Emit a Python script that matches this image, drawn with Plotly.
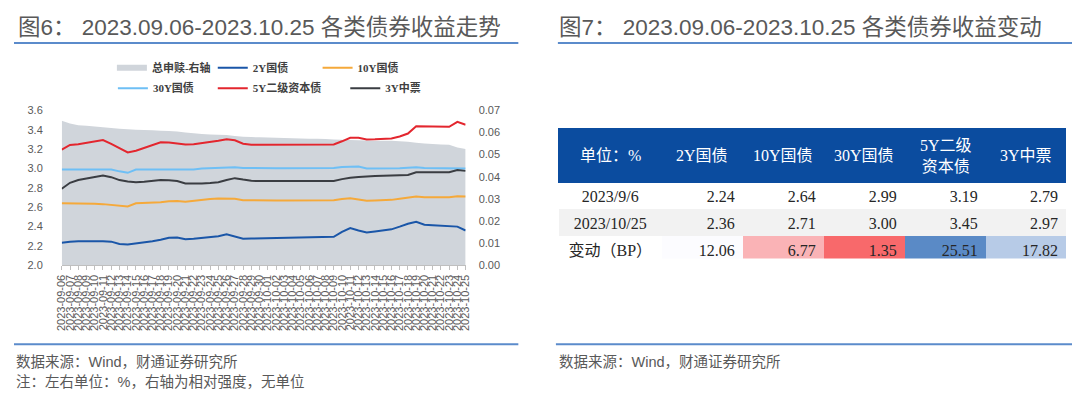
import plotly.graph_objects as go
import pandas as pd

W, H = 1080, 394

def px(x):
    return x / W

def py(y):
    return 1 - y / H

# ---------------- data ----------------
dates = [d.strftime("%Y-%m-%d") for d in pd.date_range("2023-09-06", "2023-10-25", freq="D")]

area_strength = [0.0653, 0.064, 0.0632, 0.063, 0.0627, 0.0623, 0.062, 0.0617, 0.0614, 0.0612,
                 0.0611, 0.061, 0.0608, 0.0606, 0.0604, 0.06, 0.0596, 0.0593, 0.0591, 0.059,
                 0.0589, 0.0584, 0.058, 0.0579, 0.0578, 0.0577, 0.0576, 0.0575, 0.0574, 0.0573,
                 0.0572, 0.0571, 0.057, 0.0568, 0.0567, 0.0566, 0.0565, 0.0564, 0.0563, 0.0563,
                 0.0562, 0.056, 0.0558, 0.0553, 0.055, 0.0548, 0.0546, 0.0544, 0.0532, 0.0525]

gov_2y = [2.233, 2.245, 2.248, 2.25, 2.25, 2.25, 2.245, 2.22, 2.216, 2.225,
          2.235, 2.25, 2.265, 2.285, 2.288, 2.27, 2.275, 2.282, 2.29, 2.30,
          2.32, 2.30, 2.276, 2.277, 2.278, 2.279, 2.28, 2.282, 2.284, 2.286,
          2.288, 2.29, 2.292, 2.295, 2.345, 2.386, 2.36, 2.34, 2.35, 2.36,
          2.372, 2.40, 2.43, 2.45, 2.42, 2.415, 2.41, 2.405, 2.40, 2.36]

gov_10y = [2.64, 2.64, 2.641, 2.638, 2.635, 2.632, 2.626, 2.618, 2.608, 2.64,
           2.642, 2.646, 2.652, 2.662, 2.664, 2.657, 2.668, 2.678, 2.685, 2.691,
           2.693, 2.688, 2.672, 2.67, 2.67, 2.67, 2.67, 2.67, 2.67, 2.67,
           2.67, 2.67, 2.67, 2.672, 2.685, 2.693, 2.68, 2.668, 2.67, 2.672,
           2.676, 2.688, 2.70, 2.71, 2.703, 2.703, 2.703, 2.703, 2.712, 2.71]

gov_30y = [2.99, 2.99, 2.99, 2.99, 2.99, 2.99, 2.988, 2.97, 2.955, 2.988,
           2.988, 2.988, 2.989, 2.99, 2.99, 2.992, 2.99, 3.0, 3.005, 3.01,
           3.013, 3.013, 3.005, 3.003, 3.003, 3.003, 3.003, 3.003, 3.003, 3.003,
           3.003, 3.003, 3.003, 3.005, 3.015, 3.02, 3.02, 3.0, 3.0, 3.0,
           3.0, 3.003, 3.008, 3.013, 3.005, 3.003, 3.0, 3.0, 3.0, 3.0]

tier2_5y = [3.193, 3.243, 3.25, 3.266, 3.28, 3.293, 3.253, 3.21, 3.166, 3.183,
            3.21, 3.236, 3.27, 3.268, 3.256, 3.246, 3.25, 3.26, 3.273, 3.285,
            3.30, 3.29, 3.255, 3.245, 3.245, 3.245, 3.245, 3.245, 3.245, 3.245,
            3.245, 3.245, 3.245, 3.248, 3.28, 3.316, 3.316, 3.298, 3.30, 3.305,
            3.31, 3.33, 3.36, 3.435, 3.434, 3.433, 3.432, 3.43, 3.48, 3.45]

mtn_3y = [2.79, 2.852, 2.881, 2.895, 2.91, 2.926, 2.91, 2.88, 2.865, 2.858,
          2.862, 2.87, 2.88, 2.878, 2.87, 2.845, 2.843, 2.845, 2.85, 2.857,
          2.88, 2.90, 2.885, 2.872, 2.87, 2.87, 2.87, 2.87, 2.87, 2.87,
          2.87, 2.87, 2.87, 2.87, 2.89, 2.905, 2.912, 2.92, 2.922, 2.924,
          2.926, 2.93, 2.933, 2.96, 2.96, 2.96, 2.96, 2.962, 2.983, 2.975]

left_ticks = [2.0, 2.2, 2.4, 2.6, 2.8, 3.0, 3.2, 3.4, 3.6]
right_ticks = [0.00, 0.01, 0.02, 0.03, 0.04, 0.05, 0.06, 0.07]

# table data
table_header = ["单位：%", "2Y国债", "10Y国债", "30Y国债", "5Y二级<br>资本债", "3Y中票"]
row_labels = ["2023/9/6", "2023/10/25", "变动（BP）"]
start_vals = [2.24, 2.64, 2.99, 3.19, 2.79]
end_vals = [2.36, 2.71, 3.00, 3.45, 2.97]
change_bp = [12.06, 6.77, 1.35, 25.51, 17.82]
change_colors = ["#FCFCFF", "#FAB3B6", "#F8696B", "#5A8AC6", "#B7CBE7"]

# ---------------- figure ----------------
GRAY_TXT = "#595959"
SANS = "Liberation Sans, Noto Sans CJK SC, sans-serif"
SERIF = "Liberation Serif, Noto Sans CJK SC, serif"
LEG_FONT = dict(family=SERIF, size=11, color="#404040", weight="bold")

fig = go.Figure()

fig.add_trace(go.Scatter(
    x=dates, y=area_strength, name="总申赎-右轴", mode="none", fill="tozeroy",
    fillcolor="#D0D5DB", xaxis="x", yaxis="y", legend="legend"))

series = [
    ("2Y国债", gov_2y, "#1A56A8", "legend2"),
    ("10Y国债", gov_10y, "#F5A93A", "legend3"),
    ("30Y国债", gov_30y, "#6EBFF5", "legend4"),
    ("5Y二级资本债", tier2_5y, "#E3262E", "legend5"),
    ("3Y中票", mtn_3y, "#3A3D42", "legend6"),
]
for name, vals, col, leg in series:
    fig.add_trace(go.Scatter(
        x=dates, y=vals, name=name, mode="lines", line=dict(color=col, width=2),
        xaxis="x", yaxis="y2", legend=leg))

# legends: text start x (px) and row centre y (px)
legend_pos = {
    "legend": (139, 55.5), "legend2": (241, 55.5), "legend3": (347, 55.5),
    "legend4": (140, 76.5), "legend5": (241, 76.5), "legend6": (375, 76.5),
}
for key, (xt, yc) in legend_pos.items():
    fig.layout[key] = dict(x=px(xt - 40), xanchor="left", y=py(yc), yanchor="middle",
                           orientation="h", bgcolor="rgba(0,0,0,0)", font=LEG_FONT,
                           itemwidth=30, borderwidth=0)

# table: header band from the table, header labels centred vertically as annotations
col_widths = [104, 82, 82, 82, 82, 81]
tbl_x0, tbl_top, hdr_h, row_h = 551, 118, 54, 27
tbl_x1 = tbl_x0 + sum(col_widths)
tbl_bottom = tbl_top + hdr_h + row_h * len(row_labels)

cells_vals = [row_labels] + [
    [f"{s:.2f}", f"{e:.2f}", f"{c:.2f}"] for s, e, c in zip(start_vals, end_vals, change_bp)
]
cells_fill = [["#FFFFFF", "#F2F2F2", "#FFFFFF"]] + [
    ["#FFFFFF", "#F2F2F2", c] for c in change_colors
]
fig.add_trace(go.Table(
    domain=dict(x=[px(tbl_x0), px(tbl_x1)], y=[py(tbl_bottom), py(tbl_top)]),
    columnwidth=col_widths,
    header=dict(values=["" for _ in table_header], fill_color="#0B4C9F", align="center",
                height=hdr_h, font=dict(family=SERIF, size=16, color="white"),
                line=dict(color="#0B4C9F", width=1)),
    cells=dict(values=cells_vals, fill_color=cells_fill,
               align=["center", "right", "right", "right", "right", "right"],
               height=row_h, font=dict(family=SERIF, size=16, color="#262626"),
               line=dict(color="rgba(0,0,0,0)", width=0)),
))
for i, label in enumerate(table_header):
    cx = tbl_x0 + sum(col_widths[:i]) + col_widths[i] / 2
    fig.add_annotation(text=label, x=px(cx), y=py(tbl_top + hdr_h / 2 + 1),
                       xref="paper", yref="paper", xanchor="center", yanchor="middle",
                       showarrow=False, align="center",
                       font=dict(family=SERIF, size=16, color="white"))

fig.update_layout(
    width=W, height=H, margin=dict(l=0, r=0, t=0, b=0),
    paper_bgcolor="white", plot_bgcolor="white", showlegend=True,
    xaxis=dict(domain=[px(48.3), px(456.7)], type="category", range=[0, len(dates) - 1],
               tickmode="array", tickvals=dates, ticktext=dates, tickangle=-90,
               tickfont=dict(family="Liberation Sans", size=11, color=GRAY_TXT),
               showline=True, linecolor="#BFBFBF", linewidth=1, ticks="outside",
               ticklen=4, tickcolor="#BFBFBF", showgrid=False, zeroline=False, anchor="y"),
    yaxis=dict(domain=[py(259.3), py(99.3)], range=[0, 0.07], side="right",
               tickmode="array", tickvals=right_ticks, tickformat=".2f",
               tickfont=dict(family="Liberation Sans", size=11, color=GRAY_TXT),
               showgrid=False, zeroline=False, showline=False, anchor="x",
               ticklabelstandoff=12),
    yaxis2=dict(range=[2.0, 3.6], overlaying="y", side="left",
                tickmode="array", tickvals=left_ticks, tickformat=".1f",
                tickfont=dict(family="Liberation Sans", size=11, color=GRAY_TXT),
                showgrid=False, zeroline=False, showline=False, anchor="x",
                ticklabelstandoff=18),
)

line_col = "#5B8BCB"
for x0, x1, y in [(0, 510, 30), (550, 1080, 30), (0, 510, 340.5), (548, 1080, 340.5)]:
    fig.add_shape(type="line", xref="paper", yref="paper", x0=px(x0), x1=px(x1),
                  y0=py(y), y1=py(y), line=dict(color=line_col, width=2))

texts = [
    ("图6： 2023.09.06-2023.10.25 各类债券收益走势", 2, 14, 22.5),
    ("图7： 2023.09.06-2023.10.25 各类债券收益变动", 549, 14, 22.5),
    ("数据来源：Wind，财通证券研究所", 0, 358.5, 14.5),
    ("注：左右单位：%，右轴为相对强度，无单位", 0, 379.5, 14.5),
    ("数据来源：Wind，财通证券研究所", 549, 358.5, 14.5),
]
for t, x, y, s in texts:
    fig.add_annotation(text=t, x=px(x), y=py(y), xref="paper", yref="paper",
                       xanchor="left", yanchor="middle", showarrow=False,
                       font=dict(family=SANS, size=s, color=GRAY_TXT))

fig.write_html("out.html")
